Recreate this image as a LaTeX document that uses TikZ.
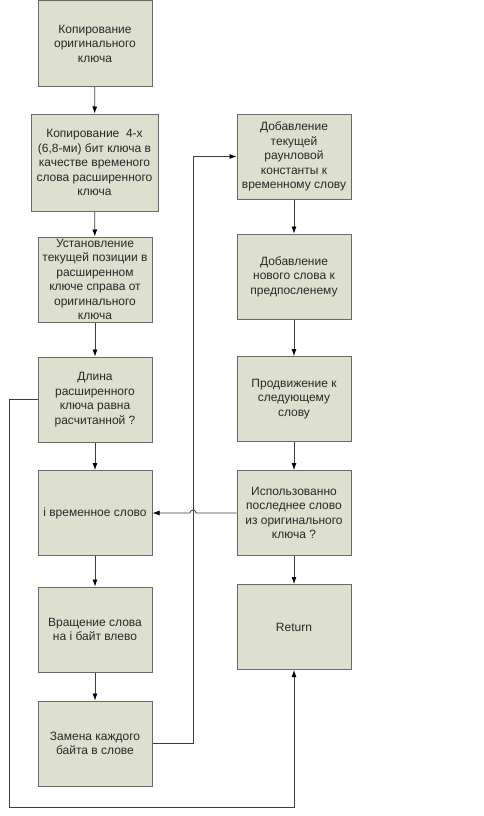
\documentclass[tikz,border=0pt]{standalone}
\usepackage{fontspec}
\setmainfont{Liberation Sans}
\usetikzlibrary{arrows.meta}
\definecolor{boxfill}{RGB}{221,224,206}
\definecolor{boxdraw}{RGB}{105,105,105}
\definecolor{linecol}{RGB}{60,60,60}
\definecolor{txtcol}{RGB}{40,40,40}
\tikzset{
  blk/.style={draw=boxdraw, fill=boxfill, line width=1pt, rectangle, minimum width=114pt, minimum height=85pt, align=center, inner sep=2pt, text=txtcol, font=\fontsize{12}{14.5}\selectfont},
  conn/.style={draw=linecol, line width=0.8pt, -{Latex[length=7pt,width=5pt,color=black]}},
}
\begin{document}
\begin{tikzpicture}[x=1pt,y=-1pt]
\useasboundingbox (0,0) rectangle (483,816);
\node[blk, minimum height=86pt] (b1) at (95,43.5) {Копирование\\оригинального\\ключа};
\node[blk, minimum width=127pt, minimum height=97pt] (b2) at (94.5,162.5) {Копирование \ 4-х\\(6,8-ми) бит ключа в\\качестве временого\\слова расширенного\\ключа};
\node[blk] (b3) at (95,279.5) {Установление\\текущей позиции в\\расширенном\\ключе справа от\\оригинального\\ключа};
\node[blk] (b4) at (95,399.5) {Длина\\расширенного\\ключа равна\\расчитанной ?};
\node[blk] (b5) at (95,513) {i временное слово};
\node[blk] (b6) at (95,629.5) {Вращение слова\\на i байт влево};
\node[blk] (b7) at (95,743.5) {Замена каждого\\байта в слове};
\node[blk] (r1) at (294,156.5) {Добавление\\текущей\\раунловой\\константы к\\временному слову};
\node[blk] (r2) at (294,276.5) {Добавление\\нового слова к\\предпосленему};
\node[blk] (r3) at (294,399) {Продвижение к\\следующему\\слову};
\node[blk] (r4) at (294,513) {Использованно\\последнее слово\\из оригинального\\ключа ?};
\node[blk] (r5) at (294,627) {Return};
\coordinate (l1) at (9,399.5);
\coordinate (l2) at (9,807);
\coordinate (l3) at (294,807);
\coordinate (m1) at (193,743.5);
\coordinate (m2) at (193,156.5);
\coordinate (h1) at (196,513);
\draw[conn] (b1) -- (b2);
\draw[conn] (b2) -- (b3);
\draw[conn] (b3) -- (b4);
\draw[conn] (b4) -- (b5);
\draw[conn] (b5) -- (b6);
\draw[conn] (b6) -- (b7);
\draw[conn] (r1) -- (r2);
\draw[conn] (r2) -- (r3);
\draw[conn] (r3) -- (r4);
\draw[conn] (r4) -- (r5);
\draw[conn] (b4.west) -- (l1) -- (l2) -- (l3) -- (r5.south);
\draw[conn] (b7.east) -- (m1) -- (m2) -- (r1.west);
\draw[conn] (r4.west) -- (h1) arc[start angle=0, end angle=180, radius=3pt] -- (b5.east);
\end{tikzpicture}
\end{document}
